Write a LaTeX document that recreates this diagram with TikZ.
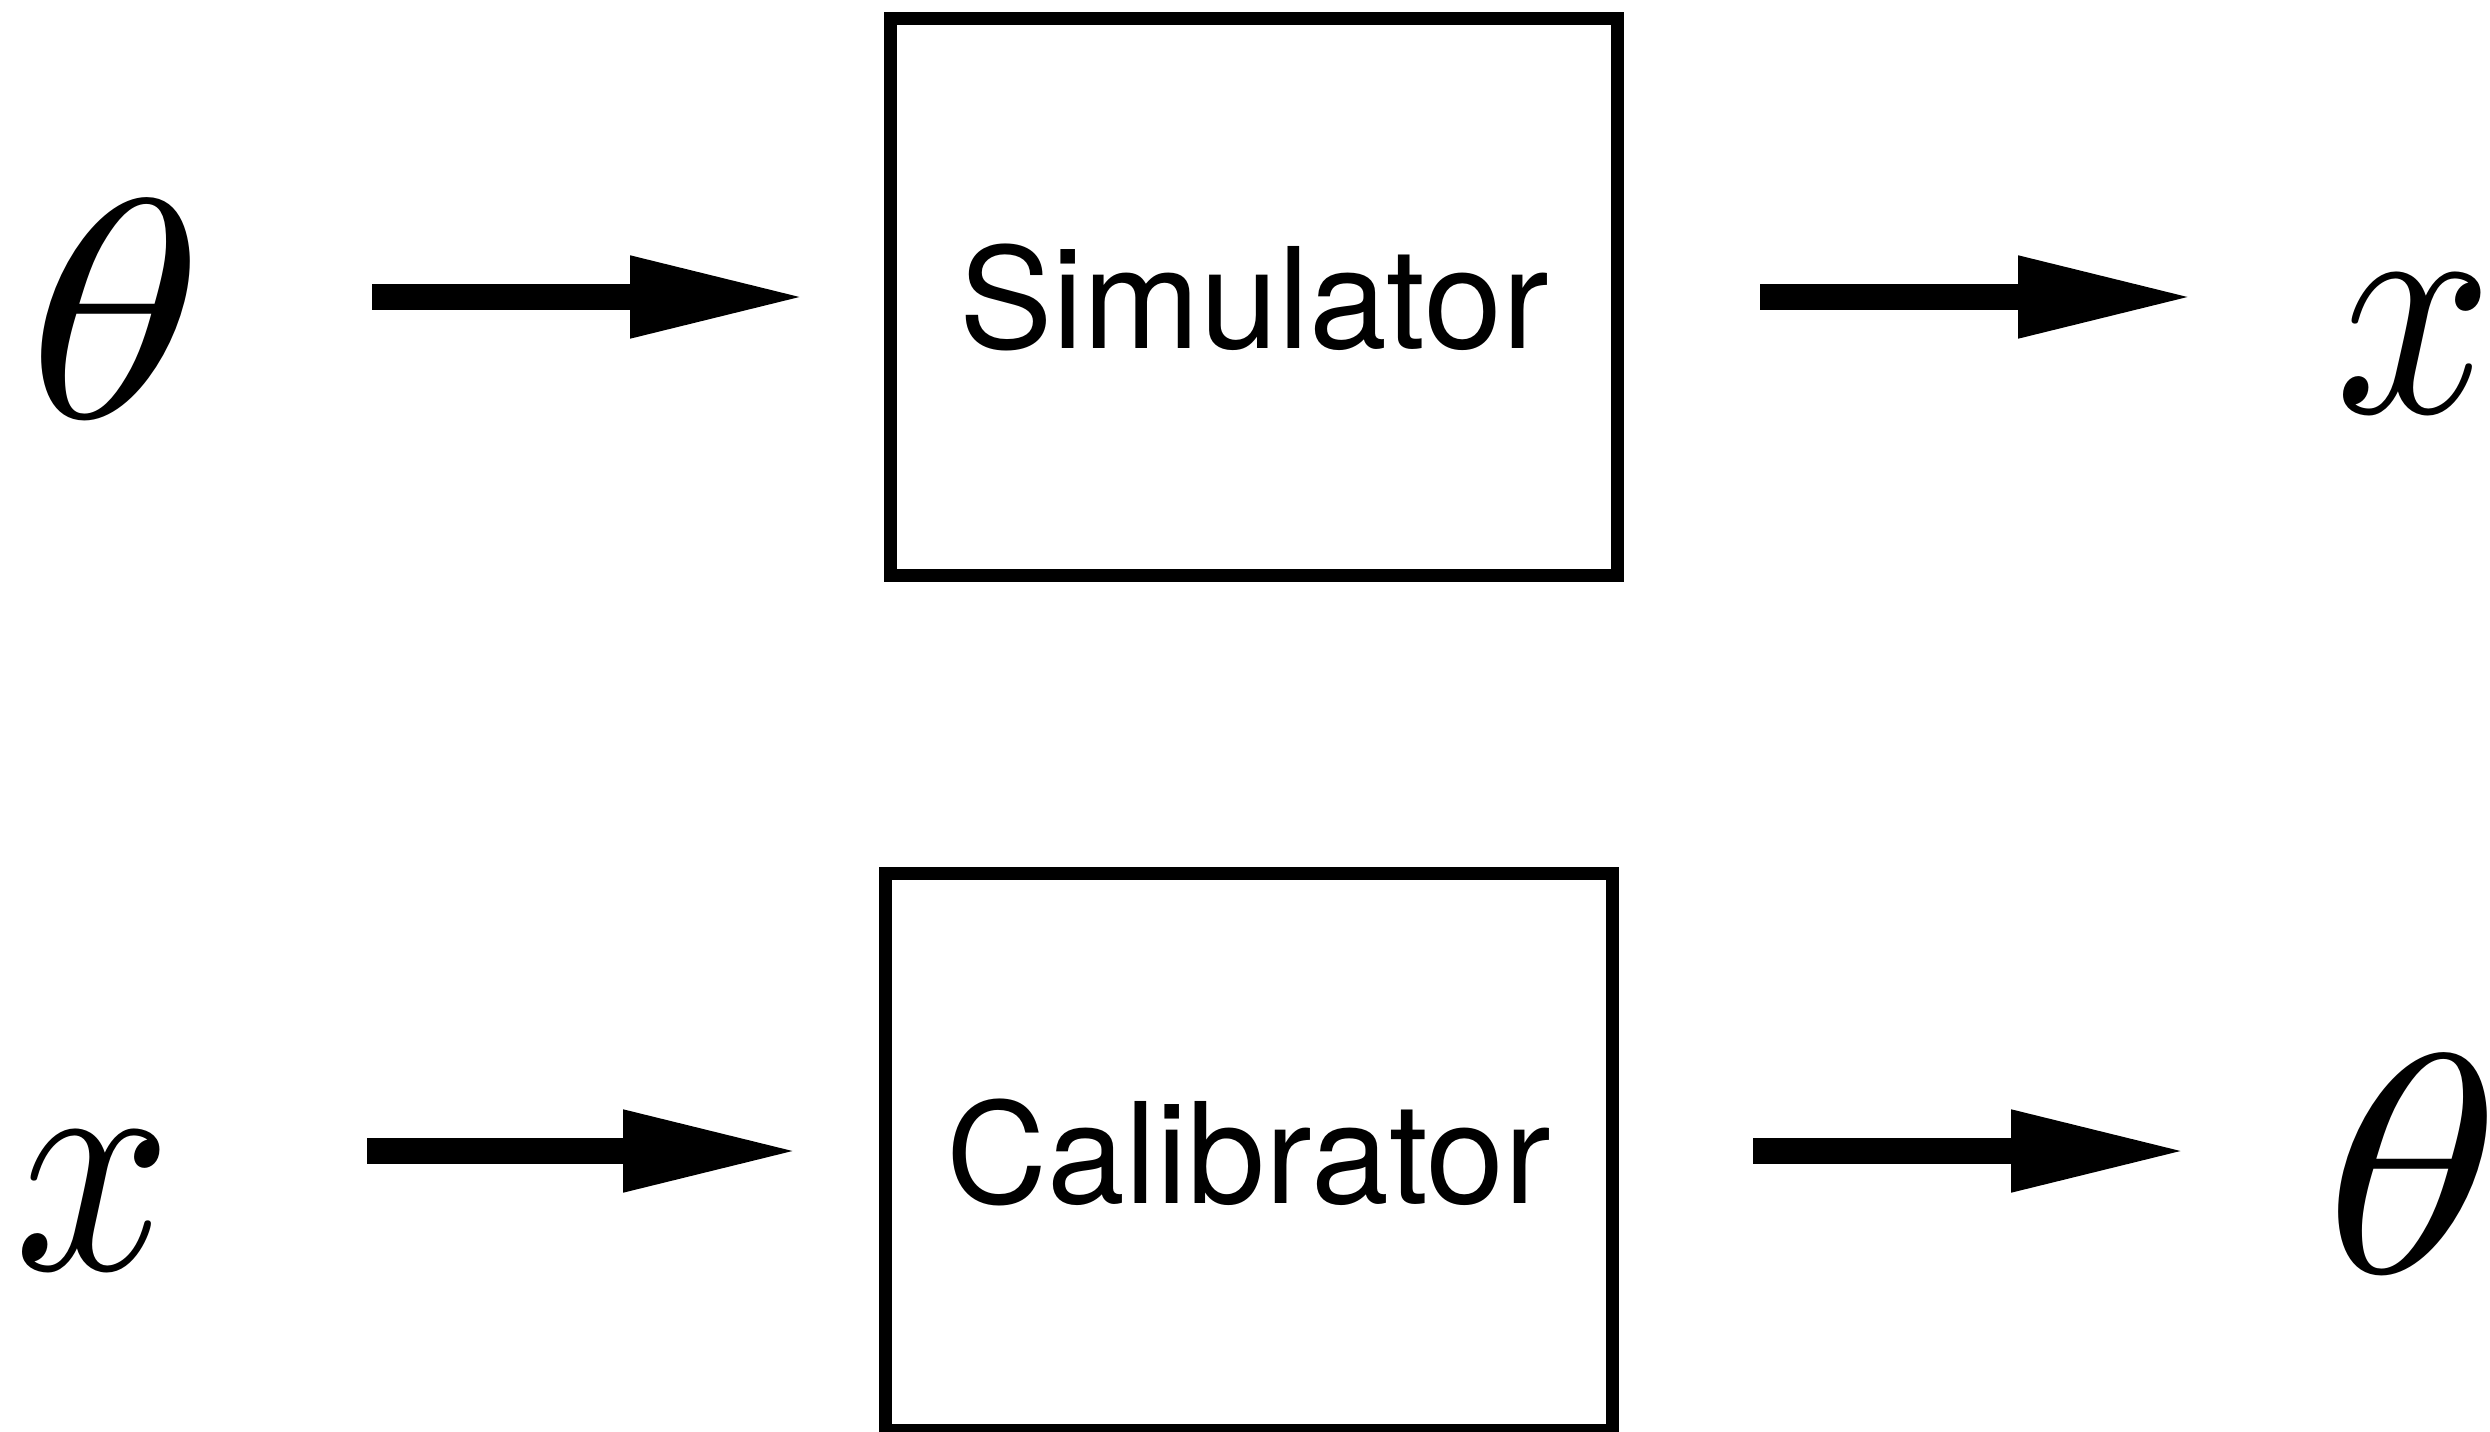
\documentclass[tikz,border=0pt]{standalone}
\usepackage{graphicx}
\usepackage{fontspec}
\setsansfont{TeX Gyre Heros}
\usetikzlibrary{arrows.meta}
\newcommand{\bigsym}[3]{\scalebox{#1}[#2]{$#3$}}
\begin{document}
\begin{tikzpicture}[x=0.25pt,y=-0.25pt,
  blk/.style={draw,line width=3.25pt,minimum width=181.75pt,minimum height=139.25pt,inner sep=0pt,
    font=\sffamily\fontsize{35}{35}\selectfont},
  sym/.style={inner sep=0pt,anchor=base},
  conn/.style={line width=6.5pt,-{Triangle[length=44.5pt,width=18.8pt]}}]
\useasboundingbox (0,0) rectangle (2490,1432);
% top row
\node[sym] (th1) at (116,418) {\bigsym{9}{7.8}{\theta}};
\node[blk] (sim) at (1254,297) {Simulator};
\node[sym] (x1) at (2414,413) {\bigsym{6.9}{7.95}{x}};
\coordinate (a1s) at (372,297);
\coordinate (a1e) at (808,297);
\coordinate (a2s) at (1760,297);
\coordinate (a2e) at (2196,297);
\draw[conn] (a1s) -- (a1e);
\draw[conn] (a2s) -- (a2e);
% bottom row
\node[sym] (x2) at (93,1269) {\bigsym{6.9}{7.95}{x}};
\node[blk] (cal) at (1248.5,1152) {Calibrator};
\node[sym] (th2) at (2413,1272) {\bigsym{9}{7.8}{\theta}};
\coordinate (a3s) at (367,1151);
\coordinate (a3e) at (801,1151);
\coordinate (a4s) at (1753,1151);
\coordinate (a4e) at (2189,1151);
\draw[conn] (a3s) -- (a3e);
\draw[conn] (a4s) -- (a4e);
\end{tikzpicture}
\end{document}
